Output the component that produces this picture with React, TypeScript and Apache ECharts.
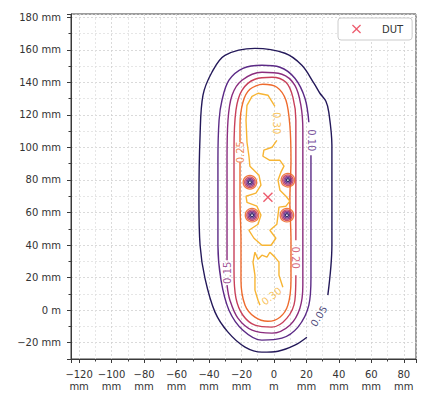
import React, { useEffect, useRef } from "react";
import * as echarts from "echarts";

// contour levels and colours
const levels = ["0.05", "0.10", "0.15", "0.20", "0.25", "0.30"];
const levelColors = ["#24195a", "#5b2a86", "#8b2d7e", "#c8405a", "#ee6b2e", "#f7b534"];

// contour paths [x mm, y mm]
const c005 = [
  [20.3, -16.6], [12.9, -21.5], [2.5, -25.2], [-7.4, -25.8], [-17.8, -22.7], [-28.3, -13.5],
  [-36.3, -1.2], [-42.5, 19.7], [-45.5, 39.9], [-46.2, 67.6], [-45.5, 107.5], [-43.7, 132.1],
  [-38.2, 146.2], [-30.2, 156.6], [-11.7, 160.9], [6.8, 157.9], [17.2, 150.5], [24.6, 139.5],
  [28.3, 133.3], [32.0, 128.4], [33.8, 121.6], [35.7, 101.4], [35.7, 67.6], [35.7, 39.9], [33.2, 9.2],
];
const c010 = [
  [22.8, 95.2], [22.8, 67.6], [22.8, 39.9], [22.8, 19.7], [21.5, 3.1], [14.8, -10.4], [4.9, -17.2],
  [-7.4, -18.4], [-19.1, -12.3], [-27.7, 0.0], [-32.6, 18.4], [-34.5, 39.9], [-34.5, 67.6],
  [-34.5, 92.1], [-33.8, 116.7], [-32.0, 129.0], [-27.7, 141.3], [-19.1, 148.6], [-7.4, 150.5],
  [3.7, 149.3], [12.9, 142.5], [19.1, 130.2], [21.5, 115.5],
];
const c015 = [
  [-28.9, 30.7], [-28.9, 67.6], [-28.9, 92.1], [-28.3, 116.7], [-25.8, 132.1], [-19.7, 141.3],
  [-7.4, 146.2], [4.9, 145.0], [12.9, 138.2], [16.6, 125.9], [17.8, 110.6], [17.8, 86.0],
  [17.8, 61.4], [17.8, 36.9], [17.8, 15.4], [16.0, 1.2], [9.8, -9.2], [-1.2, -14.1],
  [-13.5, -12.3], [-22.2, -4.9], [-27.1, 6.1], [-28.9, 15.4],
];
const c020 = [
  [13.5, 21.5], [12.9, 6.1], [8.0, -4.9], [-1.2, -10.4], [-11.7, -9.2], [-19.1, -3.1], [-23.4, 7.4],
  [-24.6, 24.6], [-24.6, 49.1], [-24.6, 73.7], [-24.6, 98.3], [-23.4, 122.9], [-19.7, 135.1],
  [-11.7, 141.9], [-1.2, 143.1], [7.4, 140.0], [11.7, 130.8], [13.5, 116.7], [13.5, 92.1],
  [13.5, 67.6], [13.5, 43.0],
];
const c025 = [
  [-20.9, 90.9], [-20.9, 67.6], [-20.3, 43.0], [-20.3, 18.4], [-17.8, 3.1], [-11.7, -4.3],
  [-3.7, -6.8], [3.7, -4.3], [8.6, 3.1], [10.5, 18.4], [10.5, 43.0], [9.8, 67.6], [10.5, 92.1],
  [9.8, 113.6], [7.4, 129.0], [1.8, 137.0], [-6.8, 138.8], [-14.8, 135.7], [-19.1, 127.8],
  [-20.9, 113.6], [-20.9, 103.2],
];
const c030a = [
  [1.8, 104.4], [-1.2, 100.1], [-6.2, 98.3], [-6.8, 94.6], [-2.5, 92.1], [3.7, 92.1], [6.2, 88.5],
  [4.3, 84.8], [2.5, 79.9], [3.7, 73.7], [7.4, 70.0], [9.8, 67.0], [7.4, 63.9], [3.1, 63.3],
  [2.5, 58.4], [1.8, 52.8], [-2.5, 49.1], [1.2, 44.2], [-1.8, 39.9], [-7.4, 39.9], [-12.3, 44.2],
  [-15.4, 49.1], [-9.8, 52.8], [-8.0, 58.4], [-10.5, 63.9], [-16.6, 66.3], [-17.2, 70.0],
  [-11.1, 71.9], [-8.0, 76.8], [-9.2, 82.9], [-14.8, 88.5], [-15.4, 94.6], [-16.6, 103.2],
  [-17.2, 116.7], [-16.6, 125.9], [-13.5, 131.4], [-9.8, 133.3], [-3.7, 132.1], [0.6, 125.3],
];
const c030b = [
  [5.5, 14.1], [3.1, 21.5], [3.1, 29.5], [0.6, 32.6], [-2.5, 35.6], [-4.3, 32.6], [-7.4, 33.8],
  [-9.8, 31.3], [-11.7, 35.6], [-12.9, 29.5], [-11.7, 21.5], [-11.7, 12.3], [-9.8, 6.1], [-8.6, 3.1],
];
const contourPaths = [c005, c010, c015, c020, c025, c030a, c030b];
const contourLevel = [0, 1, 2, 3, 4, 5, 5];
const contourSmooth = [0.35, 0.35, 0.35, 0.35, 0.3, 0, 0];

// inline contour labels
const labelLevel = [0, 1, 2, 3, 4, 5, 5];
const labelX = [27.7, 23.4, -28.6, 13.5, -20.8, 1.8, -1.5];
const labelY = [-3.7, 104.4, 23.0, 32.3, 97.1, 114.9, 8.6];
const labelRot = [58, -90, 90, -90, 90, -90, 38];

// local dips near the DUT (rings from 0.05 inside to 0.25 outside)
const hotX = [-14.8, 8.6, -13.5, 8.0];
const hotY = [78.6, 79.9, 58.4, 58.4];
const ringSize = [3, 5.5, 8, 10.5, 13.5];

// device under test
const dutX = [-3.7];
const dutY = [69.4];

const xTicks = [-120, -100, -80, -60, -40, -20, 0, 20, 40, 60, 80];
const yTicks = [-20, 0, 20, 40, 60, 80, 100, 120, 140, 160, 180];

const FONT = "DejaVu Sans";
const AXIS = "#3a3a3a";
const X_PATH = "path://M1,0L5,4L9,0L10,1L6,5L10,9L9,10L5,6L1,10L0,9L4,5L0,1Z";

const num = (v: number) => (v < 0 ? "\u2212" + Math.abs(v) : String(v));

export default function App() {
  const ref = useRef<HTMLDivElement>(null);
  useEffect(() => {
    if (!ref.current) return;
    const chart = echarts.init(ref.current, undefined, { renderer: "svg" });

    const axisCommon = {
      type: "value" as const,
      minInterval: 20,
      maxInterval: 20,
      axisLine: { show: true, onZero: false, lineStyle: { color: AXIS, width: 1 } },
      axisTick: { show: true, inside: false, length: 4, lineStyle: { color: AXIS, width: 1 } },
      minorTick: { show: true, splitNumber: 2, length: 2.5, lineStyle: { color: AXIS, width: 1 } },
      splitLine: { show: true, lineStyle: { color: "#d0d0d0", type: [2, 2], width: 0.8 } },
      minorSplitLine: { show: true, lineStyle: { color: "#e0e0e0", type: [2, 2], width: 0.8 } },
    };

    const series: any[] = [];
    contourPaths.forEach((pts, i) => {
      series.push({
        type: "line",
        data: pts,
        showSymbol: false,
        symbol: "none",
        smooth: contourSmooth[i] || false,
        silent: true,
        z: 2,
        lineStyle: { color: levelColors[contourLevel[i]], width: 1.4 },
      });
    });
    ringSize.forEach((s, k) => {
      series.push({
        type: "scatter",
        data: hotX.map((x, i) => [x, hotY[i]]),
        symbol: "circle",
        symbolSize: s,
        silent: true,
        z: 3,
        itemStyle: { color: "transparent", borderColor: levelColors[k], borderWidth: 1.3, opacity: 0.9 },
      });
    });
    series.push({
      type: "scatter",
      symbolSize: 1,
      silent: true,
      z: 4,
      itemStyle: { color: "transparent" },
      data: labelLevel.map((l, i) => ({
        value: [labelX[i], labelY[i]],
        label: {
          show: true,
          position: "inside",
          formatter: levels[l],
          rotate: labelRot[i],
          color: levelColors[l],
          fontSize: 10,
          fontFamily: FONT,
        },
      })),
    });
    series.push({
      name: "DUT",
      type: "scatter",
      symbol: X_PATH,
      symbolSize: 10,
      z: 10,
      itemStyle: { color: "#e8334a" },
      data: dutX.map((x, i) => [x, dutY[i]]),
    });

    chart.setOption({
      animation: false,
      backgroundColor: "#ffffff",
      grid: { left: 71, top: 14, right: 6, bottom: 37, show: true, borderColor: AXIS, borderWidth: 1, backgroundColor: "transparent" },
      legend: {
        data: [{ name: "DUT", icon: X_PATH }],
        left: 338,
        top: 18,
        backgroundColor: "#ffffff",
        borderColor: "#cccccc",
        borderWidth: 1,
        borderRadius: 3,
        padding: [6, 9, 6, 14],
        itemWidth: 9,
        itemHeight: 9,
        textStyle: { fontFamily: FONT, fontSize: 10, color: "#333", padding: [0, 0, 0, 16] },
      },
      xAxis: {
        ...axisCommon,
        min: -125,
        max: 87.5,
        axisLabel: {
          fontFamily: FONT,
          fontSize: 10,
          color: "#333",
          lineHeight: 12,
          margin: 9,
          formatter: (v: number) => (xTicks.includes(v) ? (v === 0 ? "0\nm" : num(v) + "\nmm") : ""),
        },
      },
      yAxis: {
        ...axisCommon,
        min: -30,
        max: 182,
        axisLabel: {
          fontFamily: FONT,
          fontSize: 10,
          color: "#333",
          margin: 10,
          formatter: (v: number) => (yTicks.includes(v) ? (v === 0 ? "0 m" : num(v) + " mm") : ""),
        },
      },
      series,
    });
    return () => chart.dispose();
  }, []);
  return <div ref={ref} style={{ position: "fixed", left: 0, top: 0, width: 422, height: 396, background: "#fff" }} />;
}
